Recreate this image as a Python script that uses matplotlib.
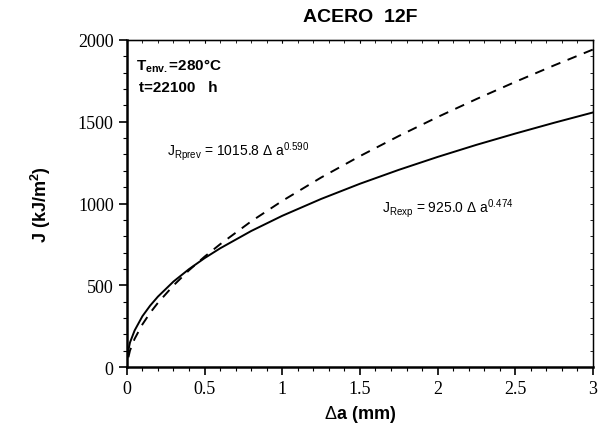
import matplotlib as mpl
mpl.use('Agg')
import matplotlib.pyplot as plt
from matplotlib.ticker import MultipleLocator

# values
da_exp = [0, 0.01, 0.02, 0.05, 0.1, 0.15, 0.2, 0.3, 0.4, 0.5, 0.6, 0.8, 1.0,
          1.25, 1.5, 1.75, 2.0, 2.25, 2.5, 2.75, 3.0]
j_exp = [40, 104, 150, 224, 311, 376, 431, 523, 599, 666, 726, 832, 925,
         1028, 1121, 1206, 1285, 1359, 1428, 1494, 1557]

da_prev = [0.01, 0.02, 0.05, 0.1, 0.15, 0.2, 0.3, 0.4, 0.5, 0.6, 0.8, 1.0,
           1.25, 1.5, 1.75, 2.0, 2.25, 2.5, 2.75, 3.0]
j_prev = [60, 101, 173, 261, 332, 393, 499, 592, 675, 751, 891, 1016,
          1159, 1290, 1413, 1529, 1639, 1744, 1845, 1942]

x_ticks = [0, 0.5, 1, 1.5, 2, 2.5, 3]
x_labels = ['0', '0.5', '1', '1.5', '2', '2.5', '3']
y_ticks = [0, 500, 1000, 1500, 2000]

plt.rcParams['mathtext.fontset'] = 'custom'
plt.rcParams['mathtext.rm'] = 'Liberation Sans'
plt.rcParams['mathtext.it'] = 'Liberation Sans'
plt.rcParams['mathtext.bf'] = 'Liberation Sans:bold'

fig = plt.figure(figsize=(6.07, 4.27), dpi=100)
ax = fig.add_axes([0.209, 0.138, 0.768, 0.766])

ax.plot(da_exp, j_exp, color='black', lw=1.4)
ax.plot(da_prev, j_prev, color='black', lw=1.4, dashes=(5, 4))

ax.set_xlim(0, 3)
ax.set_ylim(0, 2000)
ax.set_xticks(x_ticks)
ax.set_xticklabels(x_labels)
ax.set_yticks(y_ticks)
ax.xaxis.set_minor_locator(MultipleLocator(0.1))
ax.yaxis.set_minor_locator(MultipleLocator(100))

ax.spines['bottom'].set_linewidth(1.8)
ax.spines['left'].set_linewidth(1.8)
ax.spines['top'].set_linewidth(1.0)
ax.spines['right'].set_linewidth(1.0)
ax.tick_params(which='major', direction='out', length=6, width=1.2)
ax.tick_params(which='minor', direction='out', length=3, width=0.8)
# small inward ticks along the top and right frame
ax.secondary_xaxis('top').tick_params(which='both', direction='in', length=2,
                                      labeltop=False)
sx = ax.secondary_xaxis('top')
sx.set_xticks(x_ticks)
sx.xaxis.set_minor_locator(MultipleLocator(0.1))
sx.tick_params(which='both', direction='in', length=2, width=0.6, labeltop=False)
sy = ax.secondary_yaxis('right')
sy.set_yticks(y_ticks)
sy.yaxis.set_minor_locator(MultipleLocator(100))
sy.tick_params(which='both', direction='in', length=2, width=0.6, labelright=False)
for t in ax.get_xticklabels() + ax.get_yticklabels():
    t.set_fontfamily('Liberation Serif')
    t.set_fontsize(13)

ax.set_xlabel(r'$\Delta$a (mm)', fontsize=13, fontweight='bold',
              fontfamily='Liberation Sans')
ax.set_ylabel(r'J (kJ/m$^{\mathbf{2}}$)', fontsize=13, fontweight='bold',
              fontfamily='Liberation Sans', labelpad=18)
ax.set_title('ACERO  12F', fontsize=14, fontweight='bold',
             fontfamily='Liberation Sans', pad=14)

ax.text(0.06, 1820, r'T$_{\mathbf{env.}}$=280°C', fontsize=11, fontweight='bold',
        fontfamily='Liberation Sans')
ax.text(0.08, 1690, 't=22100   h', fontsize=11, fontweight='bold',
        fontfamily='Liberation Sans')
ax.text(0.26, 1300, r'J$_{\rm Rprev}$ = 1015.8 $\Delta$ a$^{0.590}$', fontsize=10,
        fontfamily='Liberation Sans')
ax.text(1.64, 950, r'J$_{\rm Rexp}$ = 925.0 $\Delta$ a$^{0.474}$', fontsize=10,
        fontfamily='Liberation Sans')

plt.savefig('out.png', dpi=100)
plt.close()
